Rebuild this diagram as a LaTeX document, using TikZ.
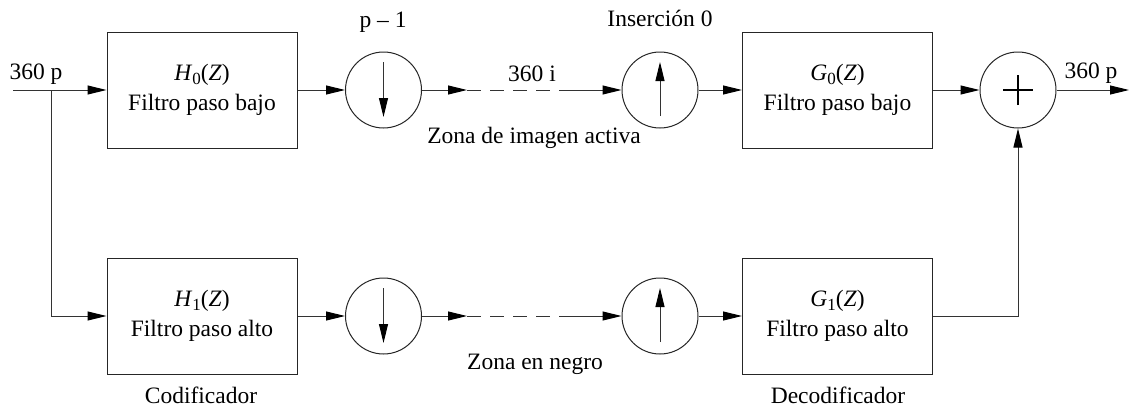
\documentclass[tikz,border=0pt]{standalone}
\usepackage{fontspec}
\setmainfont{Liberation Serif}
\usetikzlibrary{arrows.meta}
\tikzset{
  wire/.style={line width=1pt, draw=black!80},
  arr/.style={wire, -{Triangle[length=19pt,width=9pt,black]}},
  filt/.style={draw=black!85, line width=1pt, rectangle, minimum width=190pt, minimum height=116pt, align=center, font=\fontsize{23.5}{30}\selectfont, inner sep=0pt},
  op/.style={draw=black!85, line width=1pt, circle, minimum size=76pt, inner sep=0pt},
  lbl/.style={font=\fontsize{23.5}{27}\selectfont, inner sep=0pt, anchor=base},
  dsh/.style={wire, dash pattern=on 14pt off 9pt}
}
\newcommand{\tf}[2]{\textit{#1}\raisebox{-0.35ex}{\fontsize{17}{17}\selectfont #2}(\textit{Z})}
\begin{document}
\begin{tikzpicture}[x=1pt,y=-1pt]
\useasboundingbox (0,0) rectangle (1133,407);
% nodes
\node[filt] (h0) at (202,90) {\tf{H}{0}\\Filtro paso bajo};
\node[filt] (h1) at (202,316) {\tf{H}{1}\\Filtro paso alto};
\node[filt] (g0) at (837.5,90) {\tf{G}{0}\\Filtro paso bajo};
\node[filt] (g1) at (837.5,316) {\tf{G}{1}\\Filtro paso alto};
\node[op] (d0) at (383.5,90) {};
\node[op] (d1) at (383.5,316) {};
\node[op] (u0) at (660,90) {};
\node[op] (u1) at (660,316) {};
\node[op] (add) at (1018,90) {};
\coordinate (in) at (13,90);
\coordinate (sp) at (51,90);
\coordinate (out) at (1129,90);
\coordinate (m0a) at (467,90);
\coordinate (m0b) at (565,90);
\coordinate (m1a) at (467,316);
\coordinate (m1b) at (572,316);
\coordinate (cr) at (1018,316);
% labels
\node[lbl] (lin) at (36,79) {360 p};
\node[lbl] (lout) at (1091,78) {360 p};
\node[lbl] (lp) at (383,27) {p – 1};
\node[lbl] (lins) at (660,26) {Inserción 0};
\node[lbl] (l360i) at (532,81) {360 i};
\node[lbl] (lza) at (534,143) {Zona de imagen activa};
\node[lbl] (lzn) at (535,369) {Zona en negro};
\node[lbl] (lcod) at (201,403) {Codificador};
\node[lbl] (ldec) at (838,403) {Decodificador};
% connectors
\draw[arr] (in) -- (h0.west);
\draw[arr] (sp) |- (h1.west);
\draw[arr] (h0.east) -- (d0.west);
\draw[arr] (h1.east) -- (d1.west);
\draw[arr] (d0.east) -- (m0a);
\draw[arr] (d1.east) -- (m1a);
\draw[dsh] (m0a) -- (m0b);
\draw[dsh] (m1a) -- (m1b);
\draw[arr] (m0b) -- (u0.west);
\draw[arr] (m1b) -- (u1.west);
\draw[arr] (u0.east) -- (g0.west);
\draw[arr] (u1.east) -- (g1.west);
\draw[arr] (g0.east) -- (add.west);
\draw[arr] (g1.east) -- (cr) -- (add.south);
\draw[arr] (add.east) -- (out);
% symbols inside circles
\draw[arr] ([yshift=28pt]d0.center) -- ([yshift=-27pt]d0.center);
\draw[arr] ([yshift=28pt]d1.center) -- ([yshift=-27pt]d1.center);
\draw[arr] ([yshift=-26pt]u0.center) -- ([yshift=28pt]u0.center);
\draw[arr] ([yshift=-26pt]u1.center) -- ([yshift=28pt]u1.center);
\draw[line width=1.3pt] ([xshift=-15pt]add.center) -- ([xshift=15pt]add.center);
\draw[line width=1.3pt] ([yshift=-15pt]add.center) -- ([yshift=15pt]add.center);
\end{tikzpicture}
\end{document}
